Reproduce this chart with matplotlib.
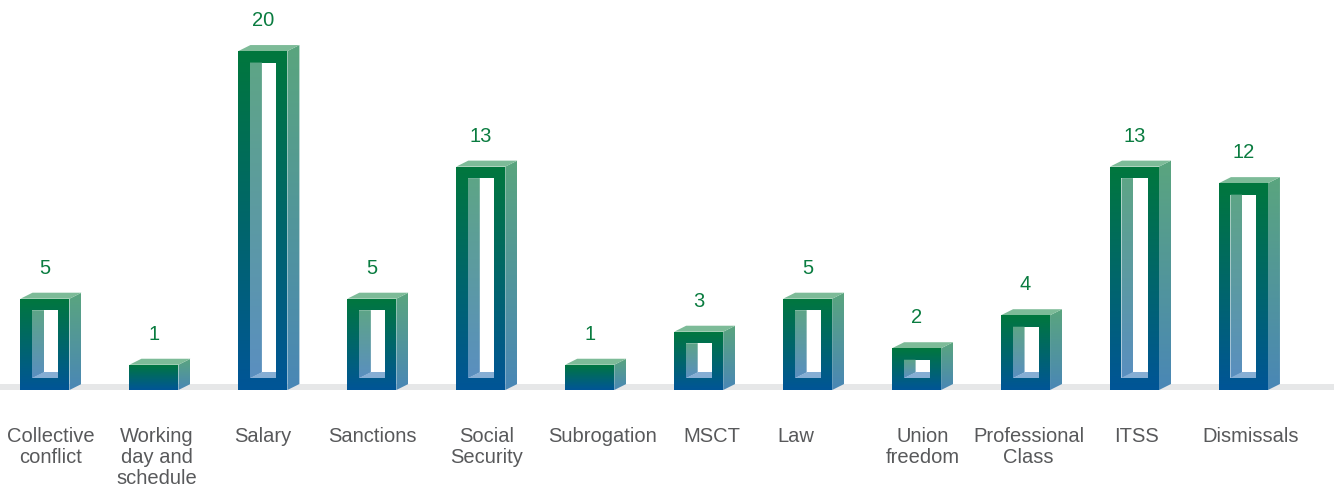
import matplotlib
matplotlib.use("Agg")
import matplotlib.pyplot as plt
import numpy as np
from matplotlib.colors import LinearSegmentedColormap
from matplotlib.patches import Polygon

categories = ["Collective\nconflict", "Working\nday and\nschedule", "Salary", "Sanctions",
              "Social\nSecurity", "Subrogation", "MSCT", "Law", "Union\nfreedom",
              "Professional\nClass", "ITSS", "Dismissals"]
values = [5, 1, 20, 5, 13, 1, 3, 5, 2, 4, 13, 12]

# small nudges of the category labels, in pixels
label_shift_px = [6, 3, 0, 1, 6, 13, 13, -12, 6, 3, 2, 7]

W, H, DPI = 1334, 488, 100
PX_X = 108.95          # pixels per category
PX_Y = 16.51           # pixels per unit
BASE = -0.53           # bars start a bit under zero
XMIN = -45 / PX_X
YMIN = BASE - 98 / PX_Y

half_w = 24.5 / PX_X
dx = 12 / PX_X
dy = 6 / PX_Y
tx = 11.5 / PX_X
ty = 11.5 / PX_Y

FRONT = ("#00773d", "#005597")
SIDE = ("#5aa57e", "#4a87b6")
TOPF = "#7dbb98"
INNER = ("#5ea586", "#5a8fc0")
FLOOR = "#86aed4"

fig = plt.figure(figsize=(W / DPI, H / DPI), dpi=DPI)
ax = fig.add_axes([0, 0, 1, 1])
ax.set_axis_off()


def grad_poly(pts, y0, y1, c_top, c_bot, z):
    pts = np.array(pts)
    poly = Polygon(pts, closed=True, facecolor="none", edgecolor="none", zorder=z)
    ax.add_patch(poly)
    cmap = LinearSegmentedColormap.from_list("g", [c_bot, c_top])
    grad = np.linspace(0, 1, 256).reshape(-1, 1)
    im = ax.imshow(grad, cmap=cmap, origin="lower", aspect="auto", interpolation="bilinear",
                   extent=[pts[:, 0].min(), pts[:, 0].max(), y0, y1], zorder=z)
    im.set_clip_path(poly)


# floor band
ax.axhspan(BASE, BASE + dy + 0.02, color="#e6e7e8", zorder=1, lw=0)

for i, v in enumerate(values):
    x0, x1 = i - half_w, i + half_w
    y0, y1 = BASE, v
    # side face
    grad_poly([(x1, y0), (x1 + dx, y0 + dy), (x1 + dx, y1 + dy), (x1, y1)],
              y0, y1 + dy, SIDE[0], SIDE[1], 2)
    # top face
    ax.add_patch(Polygon([(x0, y1), (x0 + dx, y1 + dy), (x1 + dx, y1 + dy), (x1, y1)],
                         closed=True, facecolor=TOPF, edgecolor="none", zorder=2))
    # front face
    grad_poly([(x0, y0), (x1, y0), (x1, y1), (x0, y1)], y0, y1, FRONT[0], FRONT[1], 3)

    hx0, hx1 = x0 + tx, x1 - tx
    hy0, hy1 = y0 + ty, y1 - ty
    if hy1 - hy0 > 0.5:
        ax.add_patch(Polygon([(hx0, hy0), (hx1, hy0), (hx1, hy1), (hx0, hy1)],
                             closed=True, facecolor="white", edgecolor="none", zorder=4))
        grad_poly([(hx0, hy0), (hx0 + dx, hy0 + dy), (hx0 + dx, hy1), (hx0, hy1)],
                  hy0, hy1, INNER[0], INNER[1], 5)
        ax.add_patch(Polygon([(hx0, hy0), (hx1, hy0), (hx1, hy0 + dy), (hx0 + dx, hy0 + dy)],
                             closed=True, facecolor=FLOOR, edgecolor="none", zorder=6))

    ax.text(i, v + 25 / PX_Y, str(v), ha="center", va="baseline", fontsize=14.5,
            color="#0a7c40", family="Liberation Sans")
    ax.text(i + label_shift_px[i] / PX_X, YMIN + 61 / PX_Y, categories[i], ha="center",
            va="top", fontsize=14.5, color="#58595b", family="Liberation Sans",
            linespacing=1.12)

ax.set_xlim(XMIN, XMIN + W / PX_X)
ax.set_ylim(YMIN, YMIN + H / PX_Y)

fig.savefig("out.png", dpi=DPI, facecolor="white")
plt.close(fig)
